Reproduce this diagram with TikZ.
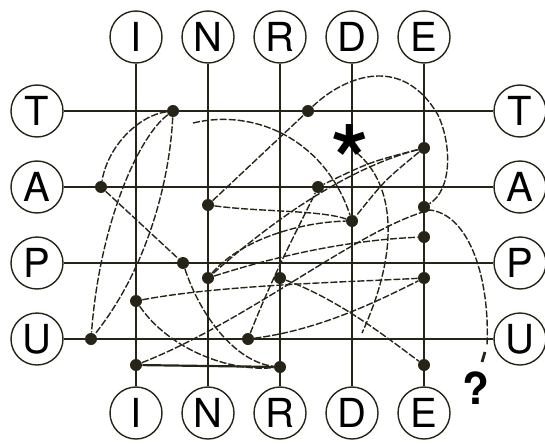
\documentclass[tikz,border=0pt]{standalone}
\usepackage{fontspec}
\setmainfont{TeX Gyre Heros}
\definecolor{ink}{RGB}{38,36,22}
\tikzset{
  letter/.style={draw=ink, circle, minimum size=26pt, inner sep=0pt, line width=0.7pt,
    font=\fontsize{20}{20}\selectfont},
  wire/.style={draw=ink, line width=1.1pt},
  dot/.style={circle, fill=ink, inner sep=0pt, minimum size=6pt},
  strand/.style={draw=ink, line width=0.7pt, dash pattern=on 3.5pt off 1pt},
}

\begin{document}
\begin{tikzpicture}[x=0.5pt,y=-0.5pt]
\useasboundingbox (0,0) rectangle (545,444);

% Column letters, top
\node[letter] (tI) at (136,37) {I};
\node[letter] (tN) at (208,37) {N};
\node[letter] (tR) at (280,37) {R};
\node[letter] (tD) at (352,37) {D};
\node[letter] (tE) at (424,37) {E};

% Column letters, bottom
\node[letter] (bI) at (136,413) {I};
\node[letter] (bN) at (208,413) {N};
\node[letter] (bR) at (280,413) {R};
\node[letter] (bD) at (352,413) {D};
\node[letter] (bE) at (424,413) {E};

% Row letters, left
\node[letter] (lT) at (37,111) {T};
\node[letter] (lA) at (37,187) {A};
\node[letter] (lP) at (37,263) {P};
\node[letter] (lU) at (37,339) {U};

% Row letters, right
\node[letter] (rT) at (520,111) {T};
\node[letter] (rA) at (520,187) {A};
\node[letter] (rP) at (520,263) {P};
\node[letter] (rU) at (520,339) {U};

% Grid
\draw[wire] (tI) -- (bI);
\draw[wire] (tN) -- (bN);
\draw[wire] (tR) -- (bR);
\draw[wire] (tD) -- (bD);
\draw[wire] (tE) -- (bE);
\draw[wire] (lT) -- (rT);
\draw[wire] (lA) -- (rA);
\draw[wire] (lP) -- (rP);
\draw[wire] (lU) -- (rU);

% Dots on the lines
\node[dot] (t1) at (173,111) {};
\node[dot] (t2) at (308,111) {};
\node[dot] (a1) at (101,187) {};
\node[dot] (a2) at (318,187) {};
\node[dot] (n1) at (208,205) {};
\node[dot] (n2) at (208,278) {};
\node[dot] (r1) at (280,278) {};
\node[dot] (d1) at (352,221) {};
\node[dot] (e1) at (424,148) {};
\node[dot] (e2) at (424,207) {};
\node[dot] (e3) at (424,237) {};
\node[dot] (e4) at (424,278) {};
\node[dot] (e5) at (424,365) {};
\node[dot] (p1) at (183,263) {};
\node[dot] (i1) at (136,301) {};
\node[dot] (u1) at (91,339) {};
\node[dot] (u2) at (248,339) {};
\node[dot] (i2) at (136,365) {};
\node[dot] (r2) at (280,367) {};

% Free ends
\coordinate (arcstart) at (193,123);
\coordinate (starfoot) at (357,153);
\coordinate (starend) at (362,333);
\coordinate (qtop) at (487,345);

% Strands, left part
\draw[strand] (t1) .. controls (140,115) and (108,145) .. (a1);
\draw[strand] (t1) .. controls (140,135) and (100,220) .. (u1);
\draw[strand] (t1) .. controls (170,175) and (150,265) .. (u1);
\draw[strand] (a1) -- (p1) .. controls (200,315) and (235,362) .. (r2);
\draw[strand] (i1) .. controls (170,350) and (230,372) .. (r2);
\draw[strand] (i1) .. controls (220,285) and (350,282) .. (e4);

% Big loop over the top
\draw[strand] (n1) -- (t2) .. controls (340,80) and (400,50) .. (438,115)
  .. controls (452,145) and (452,190) .. (e2);
\draw[strand] (arcstart) .. controls (255,108) and (325,140) .. (d1);

% Strands, middle
\draw[strand] (n1) .. controls (260,212) and (320,210) .. (d1);
\draw[strand] (n2) .. controls (240,240) and (300,222) .. (d1);
\draw[strand] (n2) .. controls (280,255) and (350,240) .. (e3);
\draw[strand] (e1) .. controls (370,162) .. (a2);
\draw[strand] (e1) .. controls (385,180) .. (d1);
\draw[strand] (e1) .. controls (360,165) and (290,205) .. (n2);
\draw[strand] (u2) .. controls (275,270) and (305,215) .. (a2);
\draw[strand] (u2) .. controls (320,330) and (380,300) .. (e4);
\draw[strand] (r1) .. controls (340,300) and (390,340) .. (e5);
\draw[strand] (starfoot) .. controls (395,185) and (400,250) .. (starend);

% Long strand to the question mark
\draw[strand] (i2) .. controls (250,320) and (360,228) .. (430,210)
  .. controls (470,215) and (490,280) .. (qtop);

% Solid bottom bar
\draw[wire] (i2) -- (r2);

% Marks
\node[font=\fontsize{48}{48}\selectfont\bfseries] (star) at (350,160) {*};
\draw[ink, line width=1.4pt] (485,352) -- (482,362);
\node[font=\fontsize{22}{22}\selectfont\bfseries] (qm) at (476,388) {?};

\end{tikzpicture}
\end{document}
